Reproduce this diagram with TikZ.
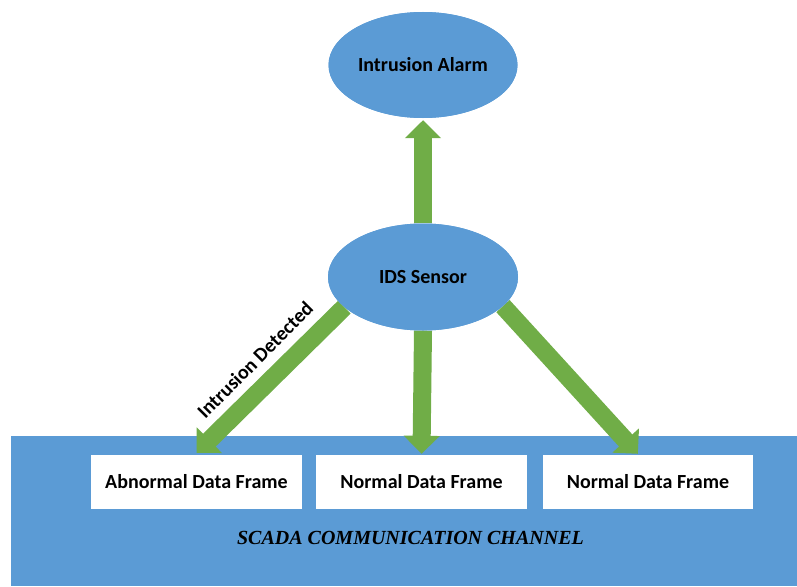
\documentclass[tikz,border=0pt]{standalone}
\usepackage{fontspec}
\setmainfont{Carlito}
\newfontfamily\channelfont{Liberation Serif}
\usetikzlibrary{shapes.geometric,arrows.meta}

\definecolor{officeblue}{HTML}{5B9BD5}
\definecolor{officegreen}{HTML}{70AD47}

\begin{document}
\begin{tikzpicture}[x=1pt,y=-1pt,
  labelfont/.style={font=\bfseries\fontsize{20}{24}\selectfont},
  bubble/.style={ellipse, fill=officeblue, inner sep=0pt, labelfont},
  framebox/.style={rectangle, fill=white, minimum height=54pt, inner sep=0pt, labelfont},
  flow/.style={draw=officegreen, line width=18pt, -{Triangle[width=35pt,length=18pt]}}
]
\useasboundingbox (0,0) rectangle (797,586);

% communication channel band
\fill[officeblue] (11,436) rectangle (797,586);

% data frames travelling on the channel
\node[framebox, minimum width=211pt] (abnormal) at (196.5,482) {Abnormal Data Frame};
\node[framebox, minimum width=211pt] (normalA) at (421.5,482) {Normal Data Frame};
\node[framebox, minimum width=210pt] (normalB) at (648,482) {Normal Data Frame};

\node[inner sep=0pt, font=\channelfont\bfseries\itshape\fontsize{20}{24}\selectfont] (channel) at (410.5,538) {SCADA COMMUNICATION CHANNEL};

% sensor and alarm (placed first so the arrows can refer to them)
\path
  node[bubble, minimum width=189pt, minimum height=106pt] (alarm) at (423,65) {}
  node[bubble, minimum width=190pt, minimum height=107pt] (ids) at (423,277) {};

% flows
\draw[flow] (ids.north) -- ([yshift=-2pt]alarm.south);
\draw[flow] (ids.south) -- ([yshift=1pt]normalA.north);
\draw[flow] (ids.201) -- ([yshift=2pt]abnormal.north);
\draw[flow] (ids.340) -- ([xshift=95pt,yshift=1pt]normalB.north west);

% ellipses drawn over the arrow tails
\node[bubble, minimum width=189pt, minimum height=106pt] at (alarm) {Intrusion Alarm};
\node[bubble, minimum width=190pt, minimum height=107pt] at (ids) {IDS Sensor};

\node[labelfont, rotate=45.2, inner sep=0pt] (detected) at (255,360) {Intrusion Detected};
\end{tikzpicture}
\end{document}
